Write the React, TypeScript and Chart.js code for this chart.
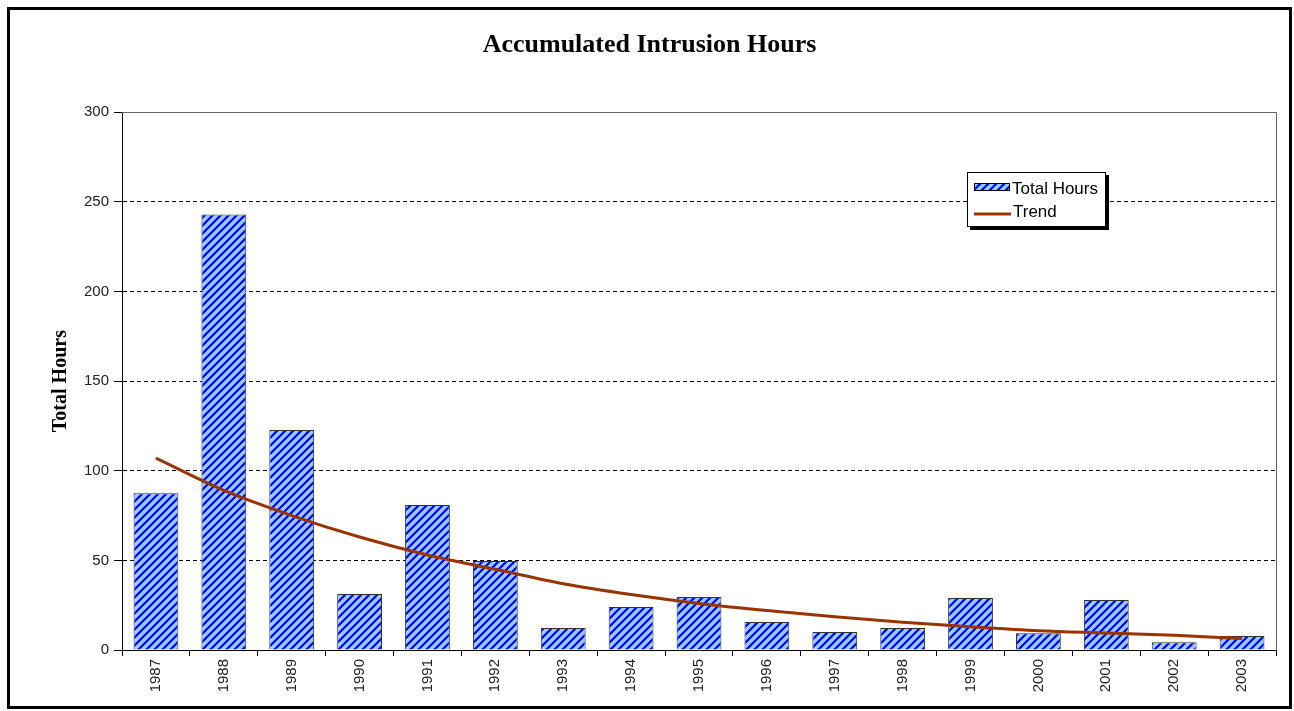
import { useEffect, useRef } from 'react';
import { Chart, registerables } from 'chart.js';

Chart.register(...registerables);

const years = ['1987', '1988', '1989', '1990', '1991', '1992', '1993', '1994', '1995', '1996', '1997', '1998', '1999', '2000', '2001', '2002', '2003'];
const totalHours = [87.5, 243, 122.7, 31.2, 80.9, 49.6, 12.3, 24, 29.6, 15.6, 10, 12.3, 29, 9.4, 27.9, 4.3, 7.8];
const trendHours = [107, 89, 75, 63, 53, 45, 37, 31, 26, 22, 18.5, 15.5, 13, 10.8, 9.5, 8.2, 6.4];
const yMin = 0;
const yMax = 300;
const yStep = 50;

const tickFont = { family: "'Liberation Sans', Arial, sans-serif", size: 15 };
const serifFont = "'Liberation Serif', 'Times New Roman', serif";

function makePattern(): CanvasPattern | string {
  const c = document.createElement('canvas');
  c.width = 8;
  c.height = 8;
  const g = c.getContext('2d');
  if (!g) return '#99CCFF';
  g.fillStyle = '#99CCFF';
  g.fillRect(0, 0, 8, 8);
  g.strokeStyle = '#0000FF';
  g.lineWidth = 2.2;
  g.beginPath();
  g.moveTo(-1, 9);
  g.lineTo(9, -1);
  g.moveTo(-1, 1);
  g.lineTo(1, -1);
  g.moveTo(7, 9);
  g.lineTo(9, 7);
  g.stroke();
  const p = g.createPattern(c, 'repeat');
  return p || '#99CCFF';
}

export default function App() {
  const ref = useRef<HTMLCanvasElement | null>(null);

  useEffect(() => {
    if (!ref.current) return;
    const pattern = makePattern();

    const framePlugin = {
      id: 'frame',
      beforeDatasetsDraw(chart: any) {
        const { ctx, chartArea } = chart;
        ctx.save();
        ctx.strokeStyle = '#666';
        ctx.lineWidth = 1;
        ctx.beginPath();
        ctx.moveTo(chartArea.left, Math.round(chartArea.top) + 0.5);
        ctx.lineTo(Math.round(chartArea.right) + 0.5, Math.round(chartArea.top) + 0.5);
        ctx.lineTo(Math.round(chartArea.right) + 0.5, chartArea.bottom);
        ctx.stroke();
        ctx.restore();
      },
    };

    const legendPlugin = {
      id: 'customLegend',
      afterDraw(chart: any) {
        const ctx = chart.ctx;
        const x = 957;
        const y = 162;
        const w = 139;
        const h = 55;
        ctx.save();
        ctx.fillStyle = '#000';
        ctx.fillRect(x + 3, y + 3, w, h);
        ctx.fillStyle = '#fff';
        ctx.fillRect(x, y, w, h);
        ctx.strokeStyle = '#000';
        ctx.lineWidth = 1;
        ctx.strokeRect(x + 0.5, y + 0.5, w - 1, h - 1);
        // Total Hours swatch
        ctx.fillStyle = pattern;
        ctx.fillRect(x + 7, y + 11, 36, 8);
        ctx.strokeStyle = '#000';
        ctx.strokeRect(x + 7.5, y + 11.5, 35, 7);
        ctx.fillStyle = '#000';
        ctx.font = "17px 'Liberation Sans', Arial, sans-serif";
        ctx.textBaseline = 'middle';
        ctx.textAlign = 'left';
        ctx.fillText('Total Hours', x + 45, y + 17);
        // Trend line
        ctx.strokeStyle = '#993300';
        ctx.lineWidth = 3;
        ctx.beginPath();
        ctx.moveTo(x + 7, y + 42);
        ctx.lineTo(x + 44, y + 42);
        ctx.stroke();
        ctx.fillText('Trend', x + 46, y + 40);
        ctx.restore();
      },
    };

    const chart = new Chart(ref.current, {
      type: 'bar',
      data: {
        labels: years,
        datasets: [
          {
            type: 'line',
            label: 'Trend',
            data: trendHours,
            borderColor: '#993300',
            backgroundColor: '#993300',
            borderWidth: 3,
            pointRadius: 0,
            cubicInterpolationMode: 'monotone',
            fill: false,
            order: 1,
          } as any,
          {
            type: 'bar',
            label: 'Total Hours',
            data: totalHours,
            backgroundColor: pattern as any,
            borderColor: '#333',
            borderWidth: 1,
            barPercentage: 0.66,
            categoryPercentage: 1,
            order: 2,
          } as any,
        ],
      },
      options: {
        animation: false,
        responsive: true,
        maintainAspectRatio: false,
        layout: { padding: { left: 13, right: 13, top: 0, bottom: 0 } },
        plugins: {
          legend: { display: false },
          tooltip: { enabled: false },
          title: {
            display: true,
            text: 'Accumulated Intrusion Hours',
            color: '#000',
            font: { family: serifFont, size: 26, weight: 'bold' },
            padding: { top: 20, bottom: 51 },
          },
        },
        scales: {
          x: {
            offset: true,
            grid: {
              offset: true,
              drawOnChartArea: false,
              drawTicks: true,
              tickLength: 6,
              tickColor: '#000',
              color: '#000',
            },
            border: { display: true, color: '#000', width: 1 },
            ticks: {
              minRotation: 90,
              maxRotation: 90,
              autoSkip: false,
              padding: 3,
              color: '#222',
              font: tickFont,
            },
            afterFit: (s: any) => {
              s.height = 56;
            },
          },
          y: {
            min: yMin,
            max: yMax,
            ticks: { stepSize: yStep, padding: 5, color: '#222', font: tickFont },
            grid: {
              color: (c: any) => (c.tick && (c.tick.value === yMin || c.tick.value === yMax) ? 'rgba(0,0,0,0)' : '#000'),
              lineWidth: 1,
              drawTicks: true,
              tickLength: 8,
              tickColor: '#000',
              tickBorderDash: [],
            },
            border: { display: true, color: '#000', width: 1, dash: [4, 3] },
            title: {
              display: true,
              text: 'Total Hours',
              color: '#000',
              font: { family: serifFont, size: 20, weight: 'bold' },
              padding: { top: 26, bottom: 0 },
            },
            afterFit: (s: any) => {
              s.width = 99;
            },
          },
        },
      } as any,
      plugins: [framePlugin, legendPlugin],
    });

    return () => chart.destroy();
  }, []);

  return (
    <div
      style={{
        position: 'absolute',
        left: 7,
        top: 7,
        width: 1279,
        height: 696,
        border: '3px solid #000',
        background: '#fff',
      }}
    >
      <canvas ref={ref} />
    </div>
  );
}
